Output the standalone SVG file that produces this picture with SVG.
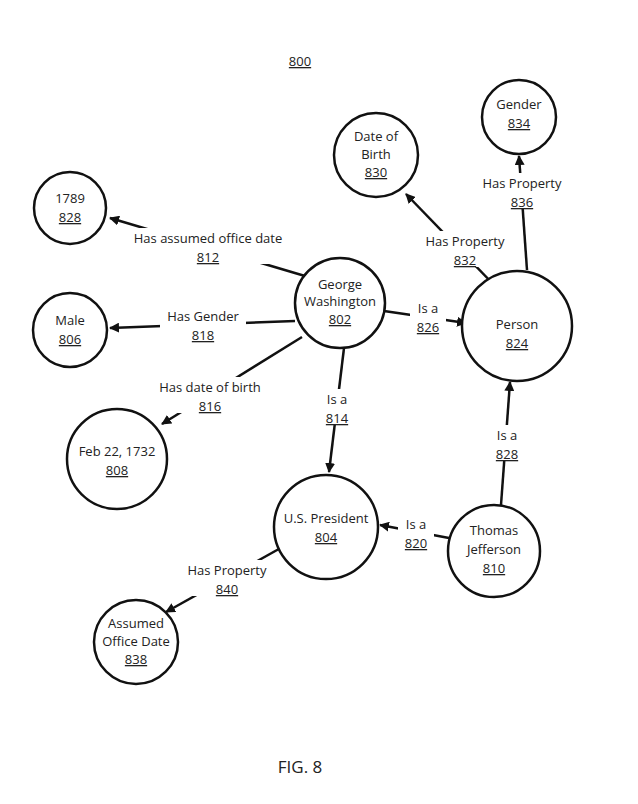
<svg xmlns="http://www.w3.org/2000/svg" width="638" height="804" viewBox="0 0 638 804">
<style>
text{font-family:"Open Sans","Liberation Sans",sans-serif;font-size:13px;fill:#222;text-anchor:middle}
.n circle{fill:#fff;stroke:#111;stroke-width:2.5}
.c line{stroke:#111;stroke-width:2.5}
.lb rect{fill:#fff}
.u{text-decoration:underline}
</style>
<defs><marker id="a" viewBox="0 0 10 10" refX="9" refY="5" markerWidth="4" markerHeight="4" orient="auto"><path d="M0,0L10,5L0,10z" fill="#111"/></marker></defs>
<rect width="638" height="804" fill="#fff"/>
<text x="300" y="66" class="u">800</text>
<g class="c">
<line x1="305" y1="276" x2="110" y2="218" marker-end="url(#a)"/>
<line x1="295" y1="321" x2="110" y2="328" marker-end="url(#a)"/>
<line x1="302" y1="337" x2="162" y2="424" marker-end="url(#a)"/>
<line x1="344" y1="348" x2="329" y2="472" marker-end="url(#a)"/>
<line x1="384" y1="311" x2="466" y2="323" marker-end="url(#a)"/>
<line x1="496" y1="287" x2="406" y2="194" marker-end="url(#a)"/>
<line x1="527" y1="270" x2="519" y2="156" marker-end="url(#a)"/>
<line x1="501" y1="505" x2="510" y2="382" marker-end="url(#a)"/>
<line x1="449" y1="538" x2="380" y2="525" marker-end="url(#a)"/>
<line x1="286" y1="545" x2="166" y2="612" marker-end="url(#a)"/>
</g>
<g class="lb">
<rect x="125" y="228" width="168" height="36"/><text x="208" y="243">Has assumed office date</text><text x="208" y="262" class="u">812</text>
<rect x="160" y="306" width="86" height="36"/><text x="203" y="321">Has Gender</text><text x="203" y="340" class="u">818</text>
<rect x="150" y="377" width="120" height="36"/><text x="210" y="392">Has date of birth</text><text x="210" y="411" class="u">816</text>
<rect x="318" y="389" width="38" height="36"/><text x="337" y="404">Is a</text><text x="337" y="423" class="u">814</text>
<rect x="410" y="298" width="36" height="36"/><text x="428" y="313">Is a</text><text x="428" y="332" class="u">826</text>
<rect x="418" y="231" width="94" height="36"/><text x="465" y="246">Has Property</text><text x="465" y="265" class="u">832</text>
<rect x="475" y="173" width="94" height="36"/><text x="522" y="188">Has Property</text><text x="522" y="207" class="u">836</text>
<rect x="488" y="425" width="38" height="36"/><text x="507" y="440">Is a</text><text x="507" y="459" class="u">828</text>
<rect x="398" y="514" width="36" height="36"/><text x="416" y="529">Is a</text><text x="416" y="548" class="u">820</text>
<rect x="180" y="560" width="94" height="36"/><text x="227" y="575">Has Property</text><text x="227" y="594" class="u">840</text>
</g>
<g id="n828" class="n"><circle cx="70" cy="208" r="36"/><text x="70" y="203">1789</text><text x="70" y="222" class="u">828</text></g>
<g id="n806" class="n"><circle cx="70" cy="330" r="37"/><text x="70" y="325">Male</text><text x="70" y="344" class="u">806</text></g>
<g id="n808" class="n"><circle cx="117" cy="459" r="50"/><text x="117" y="456">Feb 22, 1732</text><text x="117" y="475" class="u">808</text></g>
<g id="n802" class="n"><circle cx="340" cy="303" r="45"/><text x="340" y="289">George</text><text x="340" y="306">Washington</text><text x="340" y="324" class="u">802</text></g>
<g id="n830" class="n"><circle cx="376" cy="155" r="42"/><text x="376" y="141">Date of</text><text x="376" y="159">Birth</text><text x="376" y="177" class="u">830</text></g>
<g id="n834" class="n"><circle cx="519" cy="117" r="37"/><text x="519" y="109">Gender</text><text x="519" y="128" class="u">834</text></g>
<g id="n824" class="n"><circle cx="517" cy="326" r="55"/><text x="517" y="329">Person</text><text x="517" y="348" class="u">824</text></g>
<g id="n804" class="n"><circle cx="326" cy="527" r="52"/><text x="326" y="523">U.S. President</text><text x="326" y="542" class="u">804</text></g>
<g id="n810" class="n"><circle cx="494" cy="551" r="46"/><text x="494" y="535">Thomas</text><text x="494" y="554">Jefferson</text><text x="494" y="573" class="u">810</text></g>
<g id="n838" class="n"><circle cx="136" cy="642" r="42"/><text x="136" y="628">Assumed</text><text x="136" y="646">Office Date</text><text x="136" y="664" class="u">838</text></g>
<text x="300" y="773" style="font-size:17px">FIG. 8</text>
</svg>
